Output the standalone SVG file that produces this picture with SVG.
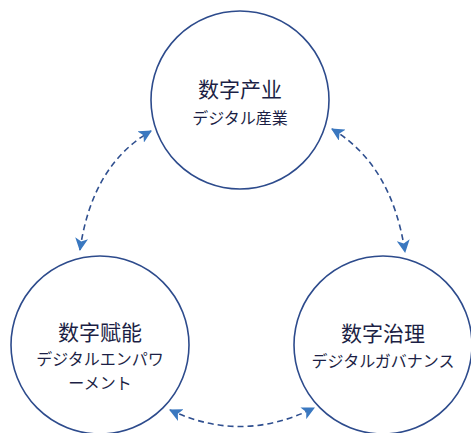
<svg xmlns="http://www.w3.org/2000/svg" width="471" height="433" viewBox="0 0 471 433">
<defs>
<marker id="ah" viewBox="0 0 12 12" refX="11" refY="6" markerWidth="13" markerHeight="13" markerUnits="userSpaceOnUse" orient="auto-start-reverse">
<path d="M0,0 L12,6 L0,12 L3,6 Z" fill="#3a78c0"/>
</marker>
<style>
.node circle{fill:#ffffff;stroke:#2d4b8c;stroke-width:1.6}
.t{font-family:"Noto Sans CJK SC","Noto Sans CJK JP",sans-serif;font-size:21px;fill:#1c1f45;text-anchor:middle}
.s{font-family:"Noto Sans CJK JP","Noto Sans CJK SC",sans-serif;font-size:16px;fill:#1c1f45;text-anchor:middle}
.c{fill:none;stroke:#2f4f8f;stroke-width:1.6;stroke-dasharray:6 4;marker-start:url(#ah);marker-end:url(#ah)}
</style>
</defs>
<rect width="471" height="433" fill="#ffffff"/>
<g id="n-top" class="node">
<circle cx="240" cy="100" r="89"/>
<text class="t" x="240" y="97">数字产业</text>
<text class="s" x="240" y="124">デジタル産業</text>
</g>
<g id="n-left" class="node">
<circle cx="100" cy="345" r="89"/>
<text class="t" x="100" y="340">数字赋能</text>
<text class="s" x="100" y="365">デジタルエンパワ</text>
<text class="s" x="100" y="389">ーメント</text>
</g>
<g id="n-right" class="node">
<circle cx="383" cy="345" r="89"/>
<text class="t" x="383" y="341">数字治理</text>
<text class="s" x="383" y="367">デジタルガバナンス</text>
</g>
<g id="connectors">
<path class="c" d="M80,250 Q92,165 151,131"/>
<path class="c" d="M332,129 Q392,165 405,252"/>
<path class="c" d="M170,410 Q242,444 314,408"/>
</g>
</svg>
